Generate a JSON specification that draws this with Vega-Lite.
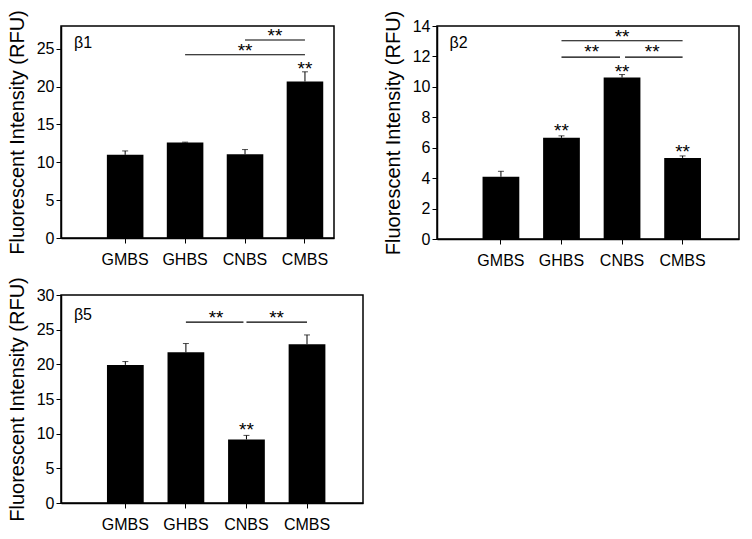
{
  "$schema": "https://vega.github.io/schema/vega-lite/v6.json",
  "padding": {"left": 6, "top": 8, "right": 5, "bottom": 5},
  "background": "white",
  "datasets": {
    "rows": [
      {"panel": "β1", "type": "bar", "cat": "GMBS", "value": 10.98, "err": 11.5},
      {"panel": "β1", "type": "bar", "cat": "GHBS", "value": 12.6, "err": 12.66},
      {"panel": "β1", "type": "bar", "cat": "CNBS", "value": 11.06, "err": 11.68},
      {"panel": "β1", "type": "bar", "cat": "CMBS", "value": 20.67, "err": 21.95},
      {"panel": "β1", "type": "sig", "cat": "CNBS", "cat2": "CMBS", "value": 26.15},
      {"panel": "β1", "type": "sig", "cat": "GHBS", "cat2": "CMBS", "value": 24.2},
      {"panel": "β1", "type": "star", "cat": "CMBS", "value": 22.6, "text": "**"},
      {"panel": "β1", "type": "star", "cat": "CNBS", "value": 24.96, "text": "**"},
      {"panel": "β1", "type": "starmid", "cat": "CNBS", "value": 26.99, "text": "**"},
      {"panel": "β1", "type": "label", "cat": "GMBS", "value": 25.7, "text": "β1"},

      {"panel": "β2", "type": "bar", "cat": "GMBS", "value": 4.09, "err": 4.45},
      {"panel": "β2", "type": "bar", "cat": "GHBS", "value": 6.65, "err": 6.78},
      {"panel": "β2", "type": "bar", "cat": "CNBS", "value": 10.61, "err": 10.81},
      {"panel": "β2", "type": "bar", "cat": "CMBS", "value": 5.33, "err": 5.46},
      {"panel": "β2", "type": "sig", "cat": "GHBS", "cat2": "CMBS", "value": 13.03},
      {"panel": "β2", "type": "sigL", "cat": "GHBS", "cat2": "CNBS", "value": 11.95},
      {"panel": "β2", "type": "sigR", "cat": "CNBS", "cat2": "CMBS", "value": 11.95},
      {"panel": "β2", "type": "star", "cat": "GHBS", "value": 7.22, "text": "**"},
      {"panel": "β2", "type": "star", "cat": "CNBS", "value": 11.1, "text": "**"},
      {"panel": "β2", "type": "star", "cat": "CMBS", "value": 5.88, "text": "**"},
      {"panel": "β2", "type": "star", "cat": "CNBS", "value": 13.4, "text": "**"},
      {"panel": "β2", "type": "starmid", "cat": "GHBS", "value": 12.4, "text": "**"},
      {"panel": "β2", "type": "starmid", "cat": "CNBS", "value": 12.4, "text": "**"},
      {"panel": "β2", "type": "label", "cat": "GMBS", "value": 12.86, "text": "β2"},

      {"panel": "β5", "type": "bar", "cat": "GMBS", "value": 19.92, "err": 20.4},
      {"panel": "β5", "type": "bar", "cat": "GHBS", "value": 21.74, "err": 23.0},
      {"panel": "β5", "type": "bar", "cat": "CNBS", "value": 9.17, "err": 9.75},
      {"panel": "β5", "type": "bar", "cat": "CMBS", "value": 22.9, "err": 24.24},
      {"panel": "β5", "type": "sigL", "cat": "GHBS", "cat2": "CNBS", "value": 26.1},
      {"panel": "β5", "type": "sig", "cat": "CNBS", "cat2": "CMBS", "value": 26.1},
      {"panel": "β5", "type": "star", "cat": "CNBS", "value": 10.85, "text": "**"},
      {"panel": "β5", "type": "starmid", "cat": "GHBS", "value": 26.97, "text": "**"},
      {"panel": "β5", "type": "starmid", "cat": "CNBS", "value": 26.97, "text": "**"},
      {"panel": "β5", "type": "label", "cat": "GMBS", "value": 27.1, "text": "β5"}
    ]
  },
  "columns": 2,
  "bounds": "flush",
  "spacing": {"row": 56, "column": 74},
  "concat": [
    {
      "width": 273, "height": 212,
      "data": {"name": "rows"},
      "transform": [{"filter": "datum.panel == 'β1'"}],
      "encoding": {
        "x": {"field": "cat", "type": "nominal", "title": null,
              "scale": {"domain": ["GMBS", "GHBS", "CNBS", "CMBS"], "paddingInner": 0.39, "paddingOuter": 0.4725, "align": 0.81}},
        "y": {"field": "value", "type": "quantitative", "title": "Fluorescent Intensity (RFU)",
              "scale": {"domain": [0, 28], "nice": false},
              "axis": {"values": [0, 5, 10, 15, 20, 25]}}
      },
      "layer": [
        {"transform": [{"filter": "datum.type == 'bar'"}], "mark": {"type": "rule", "color": "black", "strokeWidth": 1},
         "encoding": {"y2": {"field": "err"}}},
        {"transform": [{"filter": "datum.type == 'bar'"}], "mark": {"type": "tick", "color": "black", "size": 6, "thickness": 1},
         "encoding": {"y": {"field": "err", "type": "quantitative", "title": "Fluorescent Intensity (RFU)"}}},
        {"transform": [{"filter": "datum.type == 'bar'"}], "mark": {"type": "bar", "color": "black"}},
        {"transform": [{"filter": "datum.type == 'sig'"}], "mark": {"type": "rule", "color": "black", "strokeWidth": 1.2},
         "encoding": {"x2": {"field": "cat2"}}},
        {"transform": [{"filter": "datum.type == 'star'"}], "mark": {"type": "text", "fontSize": 19, "baseline": "alphabetic", "dy": 8, "color": "black"},
         "encoding": {"text": {"field": "text"}}},
        {"transform": [{"filter": "datum.type == 'starmid'"}], "mark": {"type": "text", "fontSize": 19, "baseline": "alphabetic", "dy": 8, "color": "black"},
         "encoding": {"x": {"field": "cat", "type": "nominal", "bandPosition": 1.32}, "text": {"field": "text"}}},
        {"transform": [{"filter": "datum.type == 'label'"}], "mark": {"type": "text", "fontSize": 16, "align": "left", "baseline": "middle", "color": "black"},
         "encoding": {"x": {"field": "cat", "type": "nominal", "bandPosition": -0.9}, "text": {"field": "text"}}}
      ]
    },
    {
      "width": 302, "height": 213,
      "data": {"name": "rows"},
      "transform": [{"filter": "datum.panel == 'β2'"}],
      "encoding": {
        "x": {"field": "cat", "type": "nominal", "title": null,
              "scale": {"domain": ["GMBS", "GHBS", "CNBS", "CMBS"], "paddingInner": 0.393, "paddingOuter": 0.69, "align": 0.545}},
        "y": {"field": "value", "type": "quantitative", "title": "Fluorescent Intensity (RFU)",
              "scale": {"domain": [0, 14], "nice": false},
              "axis": {"values": [0, 2, 4, 6, 8, 10, 12, 14]}}
      },
      "layer": [
        {"transform": [{"filter": "datum.type == 'bar'"}], "mark": {"type": "rule", "color": "black", "strokeWidth": 1},
         "encoding": {"y2": {"field": "err"}}},
        {"transform": [{"filter": "datum.type == 'bar'"}], "mark": {"type": "tick", "color": "black", "size": 6, "thickness": 1},
         "encoding": {"y": {"field": "err", "type": "quantitative", "title": "Fluorescent Intensity (RFU)"}}},
        {"transform": [{"filter": "datum.type == 'bar'"}], "mark": {"type": "bar", "color": "black"}},
        {"transform": [{"filter": "datum.type == 'sig'"}], "mark": {"type": "rule", "color": "black", "strokeWidth": 1.2},
         "encoding": {"x2": {"field": "cat2"}}},
        {"transform": [{"filter": "datum.type == 'sigL'"}], "mark": {"type": "rule", "color": "black", "strokeWidth": 1.2, "x2Offset": -2},
         "encoding": {"x2": {"field": "cat2"}}},
        {"transform": [{"filter": "datum.type == 'sigR'"}], "mark": {"type": "rule", "color": "black", "strokeWidth": 1.2, "xOffset": 3},
         "encoding": {"x2": {"field": "cat2"}}},
        {"transform": [{"filter": "datum.type == 'star'"}], "mark": {"type": "text", "fontSize": 19, "baseline": "alphabetic", "dy": 8, "color": "black"},
         "encoding": {"text": {"field": "text"}}},
        {"transform": [{"filter": "datum.type == 'starmid'"}], "mark": {"type": "text", "fontSize": 19, "baseline": "alphabetic", "dy": 8, "color": "black"},
         "encoding": {"x": {"field": "cat", "type": "nominal", "bandPosition": 1.32}, "text": {"field": "text"}}},
        {"transform": [{"filter": "datum.type == 'label'"}], "mark": {"type": "text", "fontSize": 16, "align": "left", "baseline": "middle", "color": "black"},
         "encoding": {"x": {"field": "cat", "type": "nominal", "bandPosition": -0.9}, "text": {"field": "text"}}}
      ]
    },
    {
      "width": 302, "height": 208,
      "data": {"name": "rows"},
      "transform": [{"filter": "datum.panel == 'β5'"}],
      "encoding": {
        "x": {"field": "cat", "type": "nominal", "title": null,
              "scale": {"domain": ["GMBS", "GHBS", "CNBS", "CMBS"], "paddingInner": 0.393, "paddingOuter": 0.69, "align": 0.55}},
        "y": {"field": "value", "type": "quantitative", "title": "Fluorescent Intensity (RFU)",
              "scale": {"domain": [0, 30], "nice": false},
              "axis": {"values": [0, 5, 10, 15, 20, 25, 30]}}
      },
      "layer": [
        {"transform": [{"filter": "datum.type == 'bar'"}], "mark": {"type": "rule", "color": "black", "strokeWidth": 1},
         "encoding": {"y2": {"field": "err"}}},
        {"transform": [{"filter": "datum.type == 'bar'"}], "mark": {"type": "tick", "color": "black", "size": 6, "thickness": 1},
         "encoding": {"y": {"field": "err", "type": "quantitative", "title": "Fluorescent Intensity (RFU)"}}},
        {"transform": [{"filter": "datum.type == 'bar'"}], "mark": {"type": "bar", "color": "black"}},
        {"transform": [{"filter": "datum.type == 'sig'"}], "mark": {"type": "rule", "color": "black", "strokeWidth": 1.2},
         "encoding": {"x2": {"field": "cat2"}}},
        {"transform": [{"filter": "datum.type == 'sigL'"}], "mark": {"type": "rule", "color": "black", "strokeWidth": 1.2, "x2Offset": -3},
         "encoding": {"x2": {"field": "cat2"}}},
        {"transform": [{"filter": "datum.type == 'star'"}], "mark": {"type": "text", "fontSize": 19, "baseline": "alphabetic", "dy": 8, "color": "black"},
         "encoding": {"text": {"field": "text"}}},
        {"transform": [{"filter": "datum.type == 'starmid'"}], "mark": {"type": "text", "fontSize": 19, "baseline": "alphabetic", "dy": 8, "color": "black"},
         "encoding": {"x": {"field": "cat", "type": "nominal", "bandPosition": 1.32}, "text": {"field": "text"}}},
        {"transform": [{"filter": "datum.type == 'label'"}], "mark": {"type": "text", "fontSize": 16, "align": "left", "baseline": "middle", "color": "black"},
         "encoding": {"x": {"field": "cat", "type": "nominal", "bandPosition": -0.9}, "text": {"field": "text"}}}
      ]
    }
  ],
  "config": {
    "font": "Liberation Sans",
    "view": {"stroke": "black", "strokeWidth": 1.5},
    "axis": {"domainColor": "black", "tickColor": "black", "labelColor": "black", "titleColor": "black", "grid": false,
             "labelFont": "Liberation Sans", "titleFont": "Liberation Sans", "labelFontSize": 16, "titleFontSize": 20,
             "titleFontWeight": "normal", "tickSize": 5, "domainWidth": 1.5, "tickWidth": 1},
    "axisX": {"labelAngle": 0, "labelPadding": 8},
    "axisY": {"labelPadding": 2, "titlePadding": 9}
  }
}
